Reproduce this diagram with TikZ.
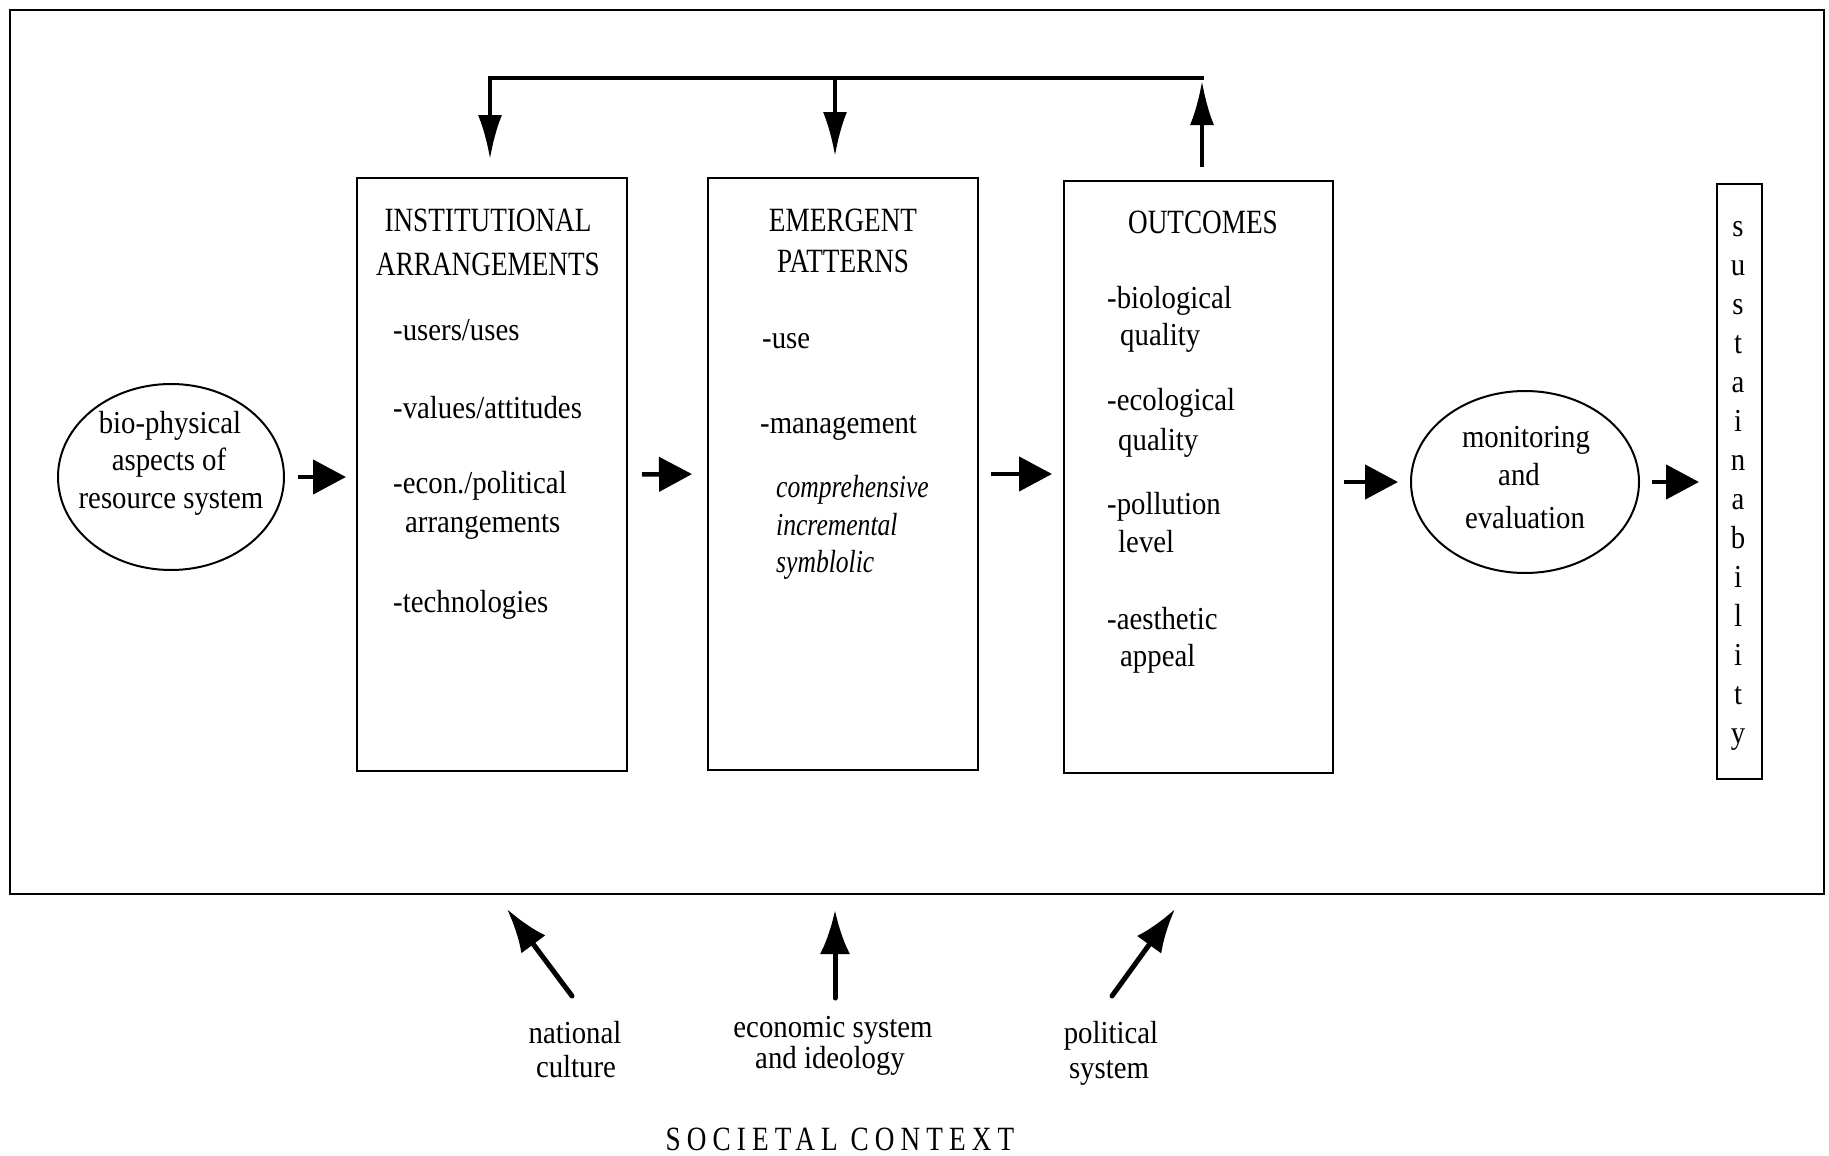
\documentclass[tikz,border=0pt]{standalone}
\usepackage{fontspec}
\setmainfont{Liberation Serif}[FakeStretch=0.9]
\newfontfamily\titlefam{Liberation Serif}[FakeStretch=0.8]
\newfontfamily\itfam{Liberation Serif}[FakeStretch=0.8]
\newfontfamily\ctxfam{Liberation Serif}[FakeStretch=0.8,LetterSpace=18]
\usetikzlibrary{arrows.meta,shapes.geometric}

\begin{document}
\begin{tikzpicture}[x=1pt,y=-1pt,
  box/.style={draw, line width=2pt, rectangle, inner sep=0pt},
  oval/.style={draw, line width=2pt, ellipse, inner sep=0pt},
  body/.style={inner sep=0pt, font=\fontsize{32}{38}\selectfont},
  ttl/.style={inner sep=0pt, anchor=base, font=\titlefam\fontsize{34}{40}\selectfont},
  ital/.style={inner sep=0pt, anchor=base west, font=\itfam\itshape\fontsize{32}{38}\selectfont},
  lft/.style={body, anchor=base west},
  ctr/.style={body, anchor=base},
  harrow/.style={line width=4.5pt, -{Triangle[length=33pt,width=34pt]}},
  fbline/.style={line width=4.5pt, line cap=rect},
  fbarrow/.style={line width=4pt, -{Latex[length=44pt,width=24pt]}},
  ctxarrow/.style={line width=5pt, line cap=round, -{Latex[length=44pt,width=30pt]}}
]
\fill[white] (0,0) rectangle (1829,1156);
\useasboundingbox (0,0) rectangle (1829,1156);

% outer frame
\node[box, minimum width=1814pt, minimum height=884pt] (frame) at (917,452) {};

% main boxes
\node[box, minimum width=270pt, minimum height=593pt] (inst) at (492,474.5) {};
\node[box, minimum width=270pt, minimum height=592pt] (emerg) at (843,474) {};
\node[box, minimum width=269pt, minimum height=592pt] (outc) at (1198.5,477) {};
\node[box, minimum width=45pt, minimum height=595pt] (sust) at (1739.5,481.5) {};

% ellipses
\node[oval, minimum width=226pt, minimum height=186pt] (bio) at (171,477) {};
\node[oval, minimum width=228pt, minimum height=182pt] (mon) at (1525,482) {};

% texts: institutional arrangements
\node[ttl] (ia1) at (488,231) {INSTITUTIONAL};
\node[ttl] (ia2) at (488,275) {ARRANGEMENTS};
\node[lft] (i1) at (393,340) {-users/uses};
\node[lft] (i2) at (393,418) {-values/attitudes};
\node[lft] (i3) at (393,493) {-econ./political};
\node[lft] (i4) at (405,532) {arrangements};
\node[lft] (i5) at (393,612) {-technologies};

% emergent patterns
\node[ttl] (ep1) at (843,231) {EMERGENT};
\node[ttl] (ep2) at (843,272) {PATTERNS};
\node[lft] (e1) at (762,348) {-use};
\node[lft] (e2) at (760,433) {-management};
\node[ital] (e3) at (776,497) {comprehensive};
\node[ital] (e4) at (776,535) {incremental};
\node[ital] (e5) at (776,572) {symblolic};

% outcomes
\node[ttl] (oc) at (1203,233) {OUTCOMES};
\node[lft] (o1) at (1107,308) {-biological};
\node[lft] (o2) at (1120,345) {quality};
\node[lft] (o3) at (1107,410) {-ecological};
\node[lft] (o4) at (1118,450) {quality};
\node[lft] (o5) at (1107,514) {-pollution};
\node[lft] (o6) at (1118,552) {level};
\node[lft] (o7) at (1107,629) {-aesthetic};
\node[lft] (o8) at (1120,666) {appeal};

% ellipse texts
\node[ctr] (b1) at (170,433) {bio-physical};
\node[ctr] (b2) at (169,470) {aspects of};
\node[ctr] (b3) at (171,508) {resource system};
\node[ctr] (m1) at (1526,447) {monitoring};
\node[ctr] (m2) at (1519,485) {and};
\node[ctr] (m3) at (1525,528) {evaluation};

% sustainability letters
\foreach \ch [count=\i from 0] in {s,u,s,t,a,i,n,a,b,i,l,i,t,y}
  \node[ctr] (sl\i) at (1738,236+39*\i) {\ch};

% horizontal flow arrows
\draw[harrow, shorten <=13pt, shorten >=10pt] (bio.east) -- (bio.east -| inst.west);
\draw[harrow, shorten <=14pt, shorten >=15pt] (inst.east) -- (emerg.west);
\draw[harrow, shorten <=12pt, shorten >=11pt] (emerg.east) -- (emerg.east -| outc.west);
\draw[harrow, shorten <=10pt, shorten >=12pt] (outc.east |- mon.west) -- (mon.west);
\draw[harrow, shorten <=12pt, shorten >=17pt] (mon.east) -- (mon.east -| sust.west);

% feedback loop
\coordinate (fbL) at (490,78);
\coordinate (fbM) at (835,78);
\coordinate (fbR) at (1202,78);
\draw[fbline] (fbL) -- (fbR);
\draw[fbarrow, shorten >=18pt] (fbL) -- (fbL |- inst.north);
\draw[fbarrow, shorten >=21pt] (fbM) -- (fbM |- emerg.north);
\draw[fbarrow, shorten <=13pt, shorten >=3pt] (fbR |- outc.north) -- (fbR);

% societal context
\coordinate (ncT) at (572,996);
\coordinate (ncH) at (507,909);
\coordinate (esT) at (835,998);
\coordinate (esH) at (835,910);
\coordinate (psT) at (1112,996);
\coordinate (psH) at (1175,909);
\draw[ctxarrow] (ncT) -- (ncH);
\draw[ctxarrow] (esT) -- (esH);
\draw[ctxarrow] (psT) -- (psH);

\node[ctr] (nc1) at (575,1043) {national};
\node[ctr] (nc2) at (576,1077) {culture};
\node[ctr] (es1) at (833,1037) {economic system};
\node[ctr] (es2) at (830,1068) {and ideology};
\node[ctr] (ps1) at (1111,1043) {political};
\node[ctr] (ps2) at (1109,1078) {system};
\node[inner sep=0pt, anchor=base, font=\ctxfam\fontsize{34}{40}\selectfont] (ctx) at (840,1150) {SOCIETAL CONTEXT};
\end{tikzpicture}
\end{document}
